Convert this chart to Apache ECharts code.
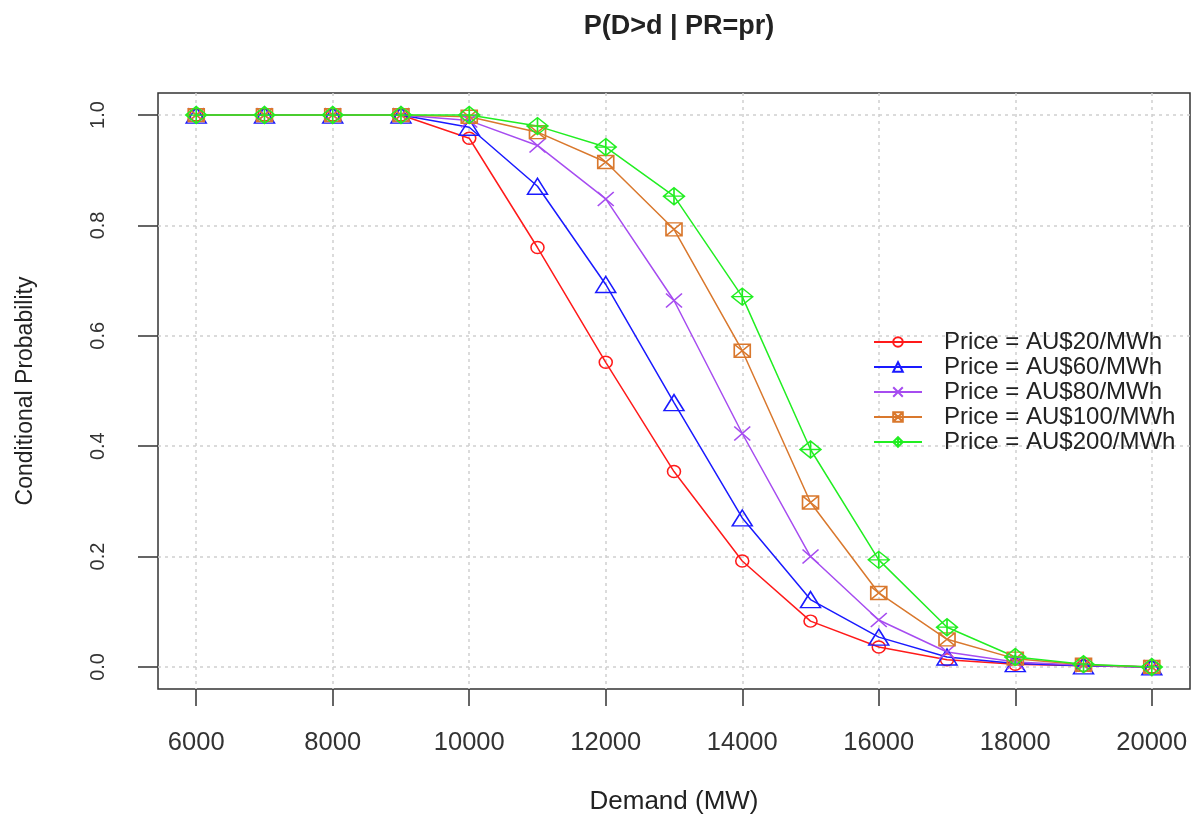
<!DOCTYPE html>
<html>
<head>
<meta charset="utf-8">
<script src="https://cdn.jsdelivr.net/npm/echarts@6/dist/echarts.min.js"></script>
<style>
  html, body { margin: 0; padding: 0; background: #fff; }
  #chart { width: 1197px; height: 828px; }
</style>
</head>
<body>
<div id="chart"></div>
<script>
const demand = [6000, 7000, 8000, 9000, 10000, 11000, 12000, 13000, 14000, 15000, 16000, 17000, 18000, 19000, 20000]
const p20 = [1, 1, 1, 1, 0.958, 0.760, 0.552, 0.354, 0.192, 0.083, 0.036, 0.013, 0.005, 0.002, 0]
const p60 = [1, 1, 1, 1, 0.978, 0.871, 0.693, 0.479, 0.270, 0.122, 0.054, 0.018, 0.006, 0.002, 0]
const p80 = [1, 1, 1, 1, 0.990, 0.945, 0.848, 0.664, 0.423, 0.200, 0.085, 0.027, 0.009, 0.003, 0]
const p100 = [1, 1, 1, 1, 0.997, 0.969, 0.915, 0.793, 0.573, 0.298, 0.134, 0.050, 0.015, 0.004, 0]
const p200 = [1, 1, 1, 1, 1.0, 0.980, 0.942, 0.853, 0.671, 0.394, 0.194, 0.072, 0.018, 0.005, 0]
const xTicks = [6000, 8000, 10000, 12000, 14000, 16000, 18000, 20000]
const yTicks = [0, 0.2, 0.4, 0.6, 0.8, 1.0]

const font = 'Liberation Sans, Arial, sans-serif'

// R style open markers
const markers = {
  circle: 'circle',
  triangle: 'path://M10,0 L20,16 L0,16 Z',
  cross: 'path://M0,0 L16,14 M16,0 L0,14',
  squareCross: 'path://M0,0 L16,0 L16,13 L0,13 Z M0,0 L16,13 M16,0 L0,13',
  diamondPlus: 'path://M10.5,0 L21,8.5 L10.5,17 L0,8.5 Z M10.5,0 L10.5,17 M0,8.5 L21,8.5'
}

function makeSeries (name, values, color, symbol, size) {
  return {
    name: name,
    type: 'line',
    data: demand.map((d, i) => [d, values[i]]),
    symbol: symbol,
    symbolSize: size,
    showAllSymbol: true,
    lineStyle: { color: color, width: 1.5 },
    itemStyle: { color: 'rgba(0,0,0,0)', borderColor: color, borderWidth: 1.5 },
    emphasis: { disabled: true }
  }
}

const series = [
  makeSeries('Price = AU$20/MWh', p20, '#ff1a1a', markers.circle, [13, 12]),
  makeSeries('Price = AU$60/MWh', p60, '#1a1aff', markers.triangle, [20, 16]),
  makeSeries('Price = AU$80/MWh', p80, '#a64cf0', markers.cross, [16, 14]),
  makeSeries('Price = AU$100/MWh', p100, '#d9782d', markers.squareCross, [16, 13]),
  makeSeries('Price = AU$200/MWh', p200, '#22ee22', markers.diamondPlus, [21, 17])
]

const chart = echarts.init(document.getElementById('chart'))
chart.setOption({
  animation: false,
  backgroundColor: '#fff',
  title: {
    text: 'P(D>d | PR=pr)',
    left: 674,
    top: 8,
    textAlign: 'center',
    textStyle: { fontFamily: font, fontSize: 27, fontWeight: 'bold', color: '#222' }
  },
  legend: {
    orient: 'vertical',
    left: 868,
    top: 325,
    itemWidth: 48,
    itemHeight: 12,
    itemGap: 1,
    textStyle: { fontFamily: font, fontSize: 24, lineHeight: 22, color: '#222', padding: [0, 0, 0, 17] }
  },
  grid: {
    left: 158,
    right: 7,
    top: 93,
    bottom: 139,
    show: true,
    borderColor: '#333',
    borderWidth: 1.5,
    backgroundColor: 'transparent'
  },
  xAxis: {
    type: 'value',
    min: 5440,
    max: 20560,
    name: 'Demand (MW)',
    nameLocation: 'middle',
    nameGap: 100,
    nameTextStyle: { fontFamily: font, fontSize: 26, color: '#222' },
    axisLine: { show: false, onZero: false },
    axisTick: { show: true, length: 17, customValues: xTicks, lineStyle: { color: '#333', width: 1.5 } },
    axisLabel: {
      customValues: xTicks,
      margin: 41,
      fontFamily: font,
      fontSize: 25.5,
      color: '#333',
      formatter: v => String(v)
    },
    splitLine: { show: true, lineStyle: { color: '#cfcfcf', type: [3, 4], width: 1.5 } }
  },
  yAxis: {
    type: 'value',
    min: -0.04,
    max: 1.04,
    name: 'Conditional Probability',
    nameLocation: 'middle',
    nameGap: 121,
    nameTextStyle: { fontFamily: font, fontSize: 23, color: '#222' },
    axisLine: { show: false, onZero: false },
    axisTick: { show: true, length: 20, customValues: yTicks, lineStyle: { color: '#333', width: 1.5 } },
    axisLabel: {
      customValues: yTicks,
      rotate: 90,
      margin: 50,
      fontFamily: font,
      fontSize: 20,
      color: '#333',
      formatter: v => v.toFixed(1)
    },
    splitLine: { show: true, lineStyle: { color: '#cfcfcf', type: [3, 4], width: 1.5 } }
  },
  series: series
})
</script>
</body>
</html>
